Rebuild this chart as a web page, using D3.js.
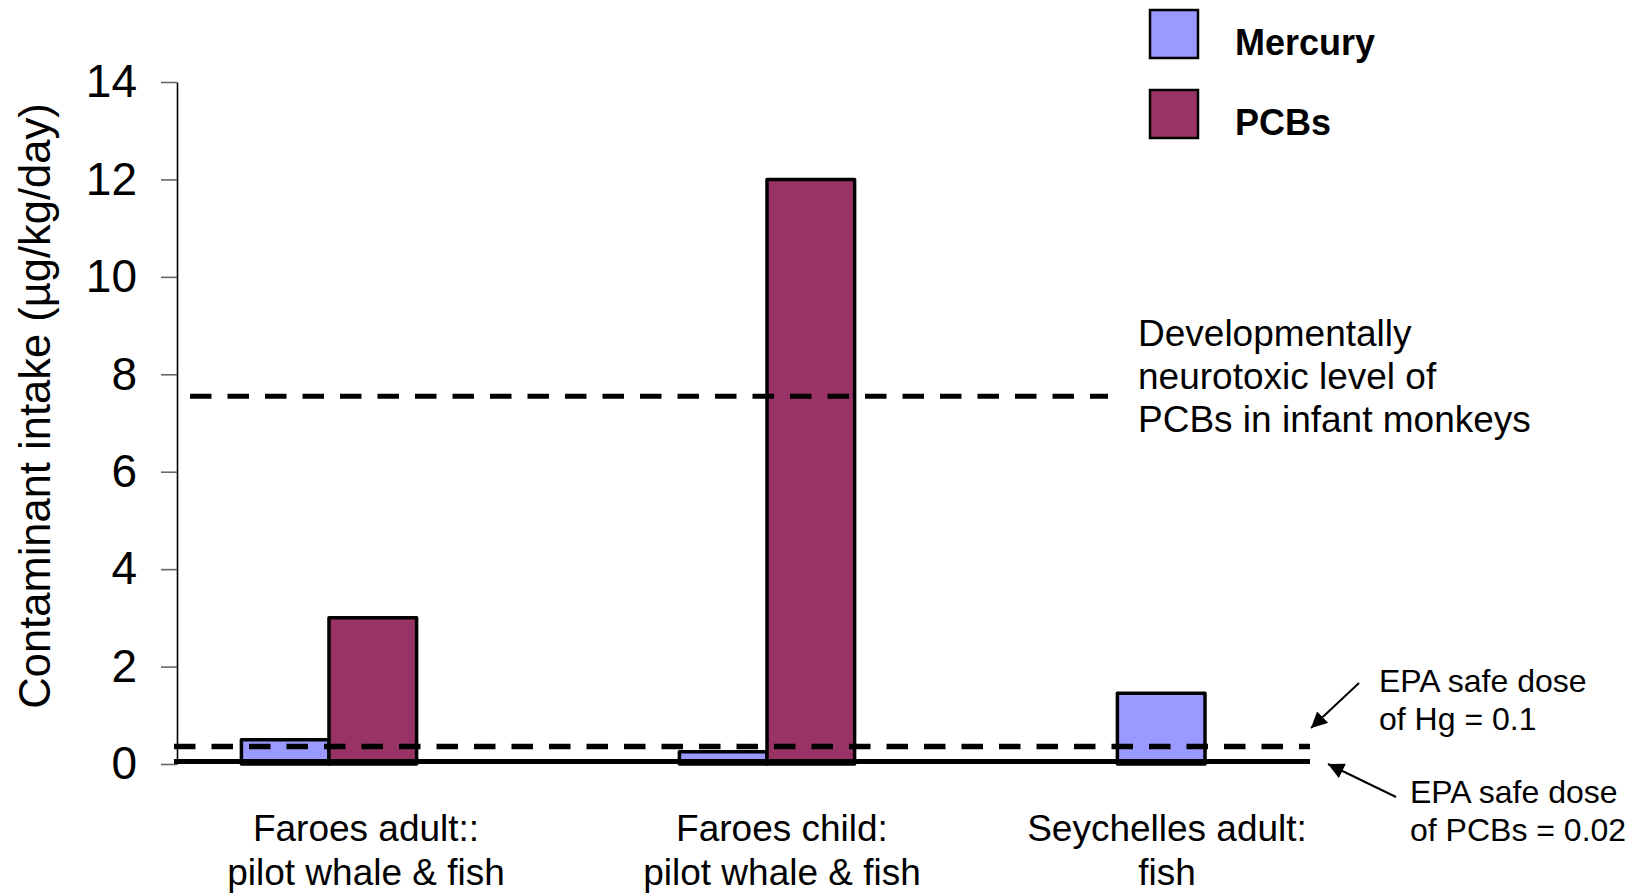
<!DOCTYPE html>
<html>
<head>
<meta charset="utf-8">
<script src="https://cdn.jsdelivr.net/npm/d3@7"></script>
<style>
  body { margin: 0; background: #fff; }
  svg { font-family: "Liberation Sans", Arial, sans-serif; }
</style>
</head>
<body>
<div id="chart"></div>
<script>
// Data
const categories = ["Faroes adult", "Faroes child", "Seychelles adult"];
const categoryLabels = [
    ["Faroes adult::", "pilot whale & fish"],
    ["Faroes child:", "pilot whale & fish"],
    ["Seychelles adult:", "fish"]
];
const series = ["Mercury", "PCBs"];
const mercury = [0.5, 0.25, 1.45];
const pcbs = [3.0, 12.0, null];
const yTicks = [0, 2, 4, 6, 8, 10, 12, 14];
const neurotoxicLevel = 7.55;   // dashed, upper
const hgSafeLine = 0.36;        // dashed, lower
const pcbSafeLine = 0.05;       // solid, near zero
const colors = { Mercury: "#9999ff", PCBs: "#993366" };

const width = 1647, height = 894;

const svg = d3.select("#chart").append("svg")
    .attr("width", width)
    .attr("height", height);

// Scales
const y = d3.scaleLinear().domain([0, 14]).range([764, 82]);

const x = d3.scaleBand()
    .domain(categories)
    .range([110, 1424])
    .paddingInner(0.6)
    .paddingOuter(0.3);

const xs = d3.scaleBand()
    .domain(series)
    .range([0, x.bandwidth()]);

const axisX = 177;

// Y axis
const yAxis = svg.append("g")
    .attr("transform", `translate(${axisX},0)`)
    .call(d3.axisLeft(y).tickValues(yTicks).tickSize(16).tickSizeOuter(0).tickPadding(24));

yAxis.select(".domain").attr("stroke", "#000").attr("stroke-width", 1.6);
yAxis.selectAll(".tick line").attr("stroke", "#666").attr("stroke-width", 1.6);
yAxis.selectAll(".tick text")
    .style("font-size", "46px")
    .style("font-family", "'Liberation Sans', Arial, sans-serif")
    .attr("fill", "#000");

// Y axis title
svg.append("text")
    .attr("transform", `translate(50,406) rotate(-90)`)
    .attr("text-anchor", "middle")
    .style("font-size", "43.5px")
    .text("Contaminant intake (\u00b5g/kg/day)");

// Bars
const rows = categories.map((c, i) => ({ cat: c, values: [
    { key: "Mercury", value: mercury[i] },
    { key: "PCBs", value: pcbs[i] }
].filter(d => d.value !== null) }));

const groups = svg.selectAll(".group")
    .data(rows)
    .enter()
    .append("g")
    .attr("class", "group")
    .attr("transform", d => `translate(${x(d.cat)},0)`);

groups.selectAll("rect")
    .data(d => d.values)
    .enter()
    .append("rect")
    .attr("x", d => xs(d.key))
    .attr("y", d => y(d.value))
    .attr("width", xs.bandwidth())
    .attr("height", d => y(0) - y(d.value))
    .attr("fill", d => colors[d.key])
    .attr("stroke", "#000")
    .attr("stroke-width", 3.5)
    .attr("stroke-linejoin", "round");

// Reference lines
svg.append("line")
    .attr("x1", 174).attr("x2", 1310)
    .attr("y1", y(pcbSafeLine)).attr("y2", y(pcbSafeLine))
    .attr("stroke", "#000").attr("stroke-width", 5);

svg.append("line")
    .attr("x1", 174).attr("x2", 1310)
    .attr("y1", y(hgSafeLine)).attr("y2", y(hgSafeLine))
    .attr("stroke", "#000").attr("stroke-width", 5.5)
    .attr("stroke-dasharray", "21.5,16");

svg.append("line")
    .attr("x1", 190).attr("x2", 1108)
    .attr("y1", y(neurotoxicLevel)).attr("y2", y(neurotoxicLevel))
    .attr("stroke", "#000").attr("stroke-width", 5)
    .attr("stroke-dasharray", "21.5,16");

// Category labels (text boxes sit a little off the group centres)
const labelNudge = [37, 15, -38];
const catText = svg.selectAll(".cat-label")
    .data(categories)
    .enter()
    .append("text")
    .attr("class", "cat-label")
    .attr("text-anchor", "middle")
    .style("font-size", "37px");

catText.each(function(d, i) {
    const t = d3.select(this);
    const cx = x(d) + x.bandwidth() / 2 + labelNudge[i];
    categoryLabels[i].forEach((line, j) => {
        t.append("tspan")
            .attr("x", cx)
            .attr("y", 841 + j * 44)
            .text(line);
    });
});

// Legend
const legend = svg.append("g").attr("transform", "translate(1150,10)");
series.forEach((s, i) => {
    legend.append("rect")
        .attr("x", 0).attr("y", i * 80)
        .attr("width", 48).attr("height", 48)
        .attr("fill", colors[s])
        .attr("stroke", "#000").attr("stroke-width", 2.5);
    legend.append("text")
        .attr("x", 85).attr("y", i * 80 + 45)
        .style("font-size", "36px")
        .style("font-weight", "bold")
        .text(s);
});

// Annotations
const neuroLines = ["Developmentally", "neurotoxic level of", "PCBs in infant monkeys"];
svg.append("text")
    .style("font-size", "37px")
    .selectAll("tspan")
    .data(neuroLines)
    .enter()
    .append("tspan")
    .attr("x", 1138)
    .attr("y", (d, i) => 346 + i * 43)
    .text(d => d);

svg.append("defs").append("marker")
    .attr("id", "arrow")
    .attr("viewBox", "0 0 10 10")
    .attr("refX", 10).attr("refY", 5)
    .attr("markerWidth", 8).attr("markerHeight", 8)
    .attr("markerUnits", "strokeWidth")
    .attr("orient", "auto")
    .append("path")
    .attr("d", "M0,0 L10,5 L0,10 z")
    .attr("fill", "#000");

const hgNote = ["EPA safe dose", "of Hg = 0.1"];
svg.append("text")
    .style("font-size", "32px")
    .selectAll("tspan")
    .data(hgNote)
    .enter()
    .append("tspan")
    .attr("x", 1379)
    .attr("y", (d, i) => 692 + i * 38)
    .text(d => d);

const pcbNote = ["EPA safe dose", "of PCBs = 0.02"];
svg.append("text")
    .style("font-size", "32px")
    .selectAll("tspan")
    .data(pcbNote)
    .enter()
    .append("tspan")
    .attr("x", 1410)
    .attr("y", (d, i) => 803 + i * 38)
    .text(d => d);

svg.append("line")
    .attr("x1", 1359).attr("y1", 683)
    .attr("x2", 1311).attr("y2", 728)
    .attr("stroke", "#000").attr("stroke-width", 2)
    .attr("marker-end", "url(#arrow)");

svg.append("line")
    .attr("x1", 1396).attr("y1", 797)
    .attr("x2", 1328).attr("y2", 764)
    .attr("stroke", "#000").attr("stroke-width", 2)
    .attr("marker-end", "url(#arrow)");
</script>
</body>
</html>
